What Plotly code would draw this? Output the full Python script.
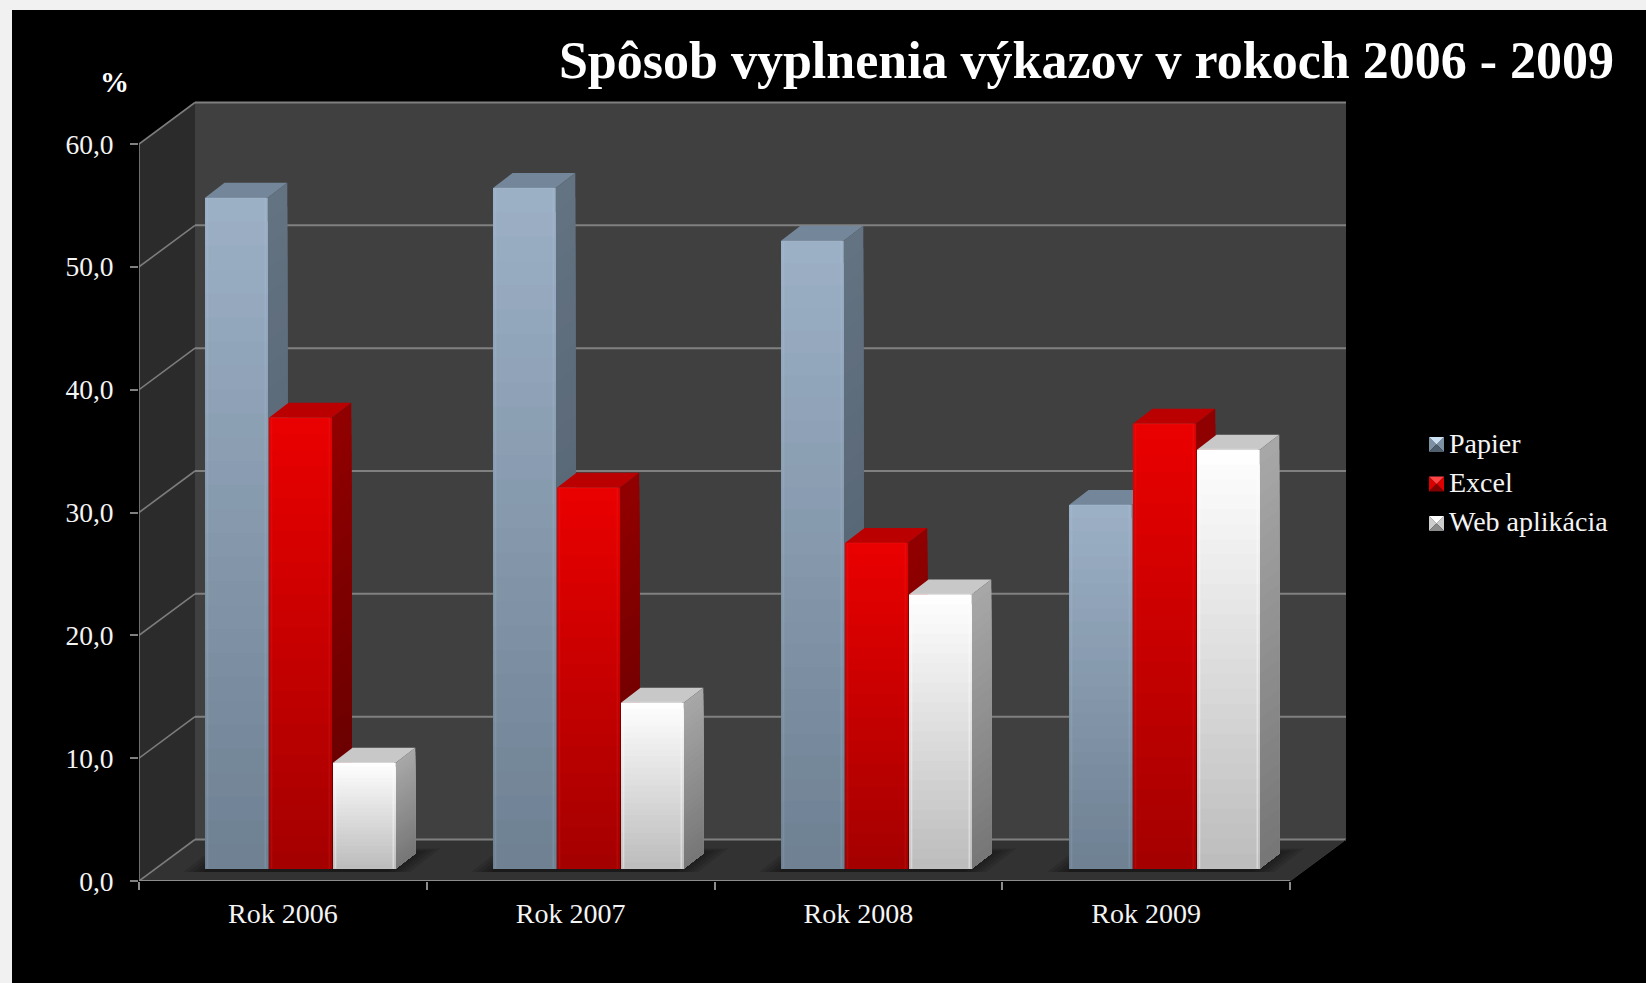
import plotly.graph_objects as go

# ---- data ----
categories = ["Rok 2006", "Rok 2007", "Rok 2008", "Rok 2009"]
papier = [54.6, 55.4, 51.1, 29.6]
excel = [36.7, 31.0, 26.5, 36.2]
web = [8.6, 13.5, 22.3, 34.1]
y_ticks = [0, 10, 20, 30, 40, 50, 60]
y_tick_labels = ["0,0", "10,0", "20,0", "30,0", "40,0", "50,0", "60,0"]
title_text = "Spôsob vyplnenia výkazov v rokoch 2006 - 2009"

# ---- page geometry (pixels of the 1646x983 page) ----
W, H = 1646, 983
AX_L, AX_R, AX_B, AX_T = 139, 1290, 881, 144
PX_X = (AX_R - AX_L) / 4
PX_Y = (AX_B - AX_T) / 60
PLOT_R, PLOT_T = 1349, 101
FONT = "Liberation Serif"

# depth of the room and of the bars, in axis units
ROOM_DX, ROOM_DY = 56 / PX_X, 41.5 / PX_Y
BAR_DX, BAR_DY = 19.5 / PX_X, 15 / PX_Y
BASE = 12.5 / PX_Y
GROUP_OFF = 66 / PX_X
GROUP_STEP = 288 / PX_X
BAR_STEP = 64 / PX_X
BAR_W = 62.8 / PX_X

N_LEVELS = 28


def lerp(c0, c1, t):
    return tuple(c0[i] + (c1[i] - c0[i]) * t for i in range(3))


def css(c, a=1):
    return f"rgba({c[0]:.0f},{c[1]:.0f},{c[2]:.0f},{a})"


styles = {
    "Papier": dict(vals=papier, front=((156, 176, 198), (110, 128, 146)),
                   side=((100, 115, 130), (78, 92, 106)), top=(116, 134, 154),
                   edge="rgba(190,210,235,0.14)",
                   swatch=((205, 225, 245), (125, 145, 165), (80, 95, 110))),
    "Excel": dict(vals=excel, front=((234, 0, 0), (164, 0, 0)),
                  side=((146, 0, 0), (96, 0, 0)), top=(186, 0, 0),
                  edge="rgba(255,60,60,0.14)",
                  swatch=((255, 70, 70), (220, 0, 0), (130, 0, 0))),
    "Web aplikácia": dict(vals=web, front=((255, 255, 255), (188, 188, 188)),
                          side=((168, 168, 168), (118, 118, 118)), top=(200, 200, 200),
                          edge="rgba(255,255,255,0.40)",
                          swatch=((255, 255, 255), (205, 205, 205), (140, 140, 140))),
}

fig = go.Figure()


def poly(points_list, color, legendgroup=None):
    xs, ys = [], []
    for pts in points_list:
        for p in pts + [pts[0]]:
            xs.append(p[0])
            ys.append(p[1])
        xs.append(None)
        ys.append(None)
    fig.add_trace(go.Scatter(x=xs, y=ys, mode="lines", fill="toself", fillcolor=color,
                             line=dict(width=0), hoverinfo="skip", showlegend=False,
                             cliponaxis=False, legendgroup=legendgroup))


def lines(segs, color, width):
    xs, ys = [], []
    for s in segs:
        for p in s:
            xs.append(p[0])
            ys.append(p[1])
        xs.append(None)
        ys.append(None)
    fig.add_trace(go.Scatter(x=xs, y=ys, mode="lines", line=dict(color=color, width=width),
                             hoverinfo="skip", showlegend=False, cliponaxis=False))


# ---- room: back wall, left wall, floor ----
n_cat = len(categories)
poly([[(ROOM_DX, ROOM_DY), (n_cat + ROOM_DX, ROOM_DY), (n_cat + ROOM_DX, 60 + ROOM_DY), (ROOM_DX, 60 + ROOM_DY)]],
     "#404040")
poly([[(0, 0), (ROOM_DX, ROOM_DY), (ROOM_DX, 60 + ROOM_DY), (0, 60)]], "#2b2b2b")
poly([[(0, 0), (n_cat, 0), (n_cat + ROOM_DX, ROOM_DY), (ROOM_DX, ROOM_DY)]], "#323232")

# ---- grid lines on both walls ----
lines([[(ROOM_DX, v + ROOM_DY), (n_cat + ROOM_DX, v + ROOM_DY)] for v in y_ticks], "#808080", 2)
lines([[(0, v), (ROOM_DX, v + ROOM_DY)] for v in y_ticks], "#7c7c7c", 1.6)
# front-right floor edge
lines([[(n_cat, 0), (n_cat + ROOM_DX, ROOM_DY)]], "#3a3a3a", 1)

# ---- soft shadow on the floor below each group ----
for k in range(5):
    inset = k * 5 / PX_X
    polys = []
    for i in range(n_cat):
        g = i * GROUP_STEP
        x0 = g + GROUP_OFF - 22 / PX_X + inset
        x1 = g + GROUP_OFF + 2 * BAR_STEP + BAR_W + 14 / PX_X - inset
        y0, y1 = BASE - 3.5 / PX_Y, BASE + 20 / PX_Y - k * 1 / PX_Y
        sk = (y1 - y0) * PX_Y * 1.3 / PX_X
        polys.append([(x0, y0), (x1, y0), (x1 + sk, y1), (x0 + sk, y1)])
    poly(polys, "rgba(0,0,0,0.11)")

# ---- bars, painted series by series so that later ones overlap earlier sides ----
for s_idx, (name, st) in enumerate(styles.items()):
    lefts = [i * GROUP_STEP + GROUP_OFF + s_idx * BAR_STEP for i in range(n_cat)]
    rights = [l + BAR_W for l in lefts]
    tops = [BASE + v for v in st["vals"]]

    # top faces
    poly([[(l, t), (r, t), (r + BAR_DX, t + BAR_DY), (l + BAR_DX, t + BAR_DY)]
          for l, r, t in zip(lefts, rights, tops)], css(st["top"]), name)

    # side faces and front faces: each level repaints from its height down to the base
    for face in ("side", "front"):
        for lev in range(N_LEVELS):
            f = lev / N_LEVELS
            col = css(lerp(st[face][0], st[face][1], (lev + 0.5) / N_LEVELS))
            polys = []
            for l, r, t in zip(lefts, rights, tops):
                y = t - (t - BASE) * f
                if face == "side":
                    polys.append([(r, BASE), (r + BAR_DX, BASE + BAR_DY), (r + BAR_DX, y + BAR_DY), (r, y)])
                else:
                    polys.append([(l, BASE), (r, BASE), (r, y), (l, y)])
            poly(polys, col, name)

    # bevel highlights on the front face
    pad = 2.5 / PX_X
    seg = []
    for l, r, t in zip(lefts, rights, tops):
        seg.append([(l + pad, BASE), (l + pad, t), (r - pad, t), (r - pad, BASE)])
    lines(seg, st["edge"], 1.6)

# ---- axis lines (drawn as lines so they stop at the front of the room) ----
lines([[(0, 0), (0, 60)]], "#808080", 1.6)
lines([[(0, 0), (n_cat, 0)]], "#8c8c8c", 2.2)

# ---- legend entries (text from the legend, pyramid swatches as paper shapes) ----
for name in styles:
    fig.add_trace(go.Scatter(
        x=[None], y=[None], mode="markers", name=name, legendgroup=name,
        marker=dict(symbol="square", size=15, color="rgba(0,0,0,0)", line=dict(width=0))))

SW_L, SW_S = 1429, 15
SW_CENTERS = [444.5, 484, 523.5]


def tri(a, b, c, color):
    to = lambda p: f"{p[0] / W:.6f},{1 - p[1] / H:.6f}"
    return dict(type="path", xref="paper", yref="paper", layer="above", line=dict(width=0),
                fillcolor=color, path=f"M{to(a)} L{to(b)} L{to(c)} Z")


swatch_shapes = []
for cy, st in zip(SW_CENTERS, styles.values()):
    l, r, t, b = SW_L, SW_L + SW_S, cy - SW_S / 2, cy + SW_S / 2
    mid = (l + r) / 2, (t + b) / 2
    light, base, dark = st["swatch"]
    swatch_shapes += [tri((l, t), (l, b), mid, css(base)),
                      tri((r, t), (r, b), mid, css(base)),
                      tri((l, b), (r, b), mid, css(dark)),
                      tri((l, t), (r, t), mid, css(light))]

fig.update_layout(
    width=W, height=H, margin=dict(l=0, r=0, t=0, b=0, autoexpand=False),
    paper_bgcolor="#f1f1f1", plot_bgcolor="rgba(0,0,0,0)",
    font=dict(family=FONT, color="#f4f4f4", size=28),
    title=dict(text=f"<b>{title_text}</b>", x=1614 / W, xref="container", xanchor="right",
               y=1 - 60 / H, yref="container", yanchor="middle",
               font=dict(family=FONT, size=52, color="#ffffff")),
    shapes=[dict(type="rect", xref="paper", yref="paper", x0=12 / W, x1=1, y0=0, y1=1 - 10 / H,
                 fillcolor="#000000", line=dict(width=0), layer="below")] + swatch_shapes,
    annotations=[dict(text="<b>%</b>", xref="paper", yref="paper", x=114.5 / W, y=1 - 82 / H,
                      xanchor="center", yanchor="middle", showarrow=False,
                      font=dict(family=FONT, size=29, color="#ffffff"))],
    xaxis=dict(domain=[AX_L / W, PLOT_R / W], range=[0, (PLOT_R - AX_L) / PX_X],
               tickmode="array", tickvals=[i + 0.5 for i in range(n_cat)], ticktext=categories,
               ticks="", showgrid=False, zeroline=False, showline=False, fixedrange=True,
               ticklabelstandoff=13, tickfont=dict(family=FONT, size=28, color="#f4f4f4"),
               minor=dict(tickmode="array", tickvals=list(range(n_cat + 1)), ticks="outside",
                          ticklen=8, tickwidth=1.6, tickcolor="#8c8c8c", showgrid=False)),
    yaxis=dict(domain=[1 - AX_B / H, 1 - PLOT_T / H], range=[0, (AX_B - PLOT_T) / PX_Y],
               tickmode="array", tickvals=y_ticks, ticktext=y_tick_labels,
               ticks="outside", ticklen=8, tickwidth=1.6, tickcolor="#808080",
               showgrid=False, zeroline=False, showline=False, fixedrange=True,
               ticklabelstandoff=11, tickfont=dict(family=FONT, size=27.5, color="#f4f4f4")),
    legend=dict(x=1409 / W, xanchor="left", y=1 - 481.5 / H, yanchor="middle",
                bgcolor="rgba(0,0,0,0)", font=dict(family=FONT, size=28, color="#f4f4f4"),
                tracegroupgap=0, itemclick=False, itemdoubleclick=False, traceorder="normal"),
)

fig.write_html("out.html", config={"displayModeBar": False},
               post_script="document.body.style.margin='0';document.body.style.background='#f1f1f1';document.documentElement.style.overflow='hidden';")
